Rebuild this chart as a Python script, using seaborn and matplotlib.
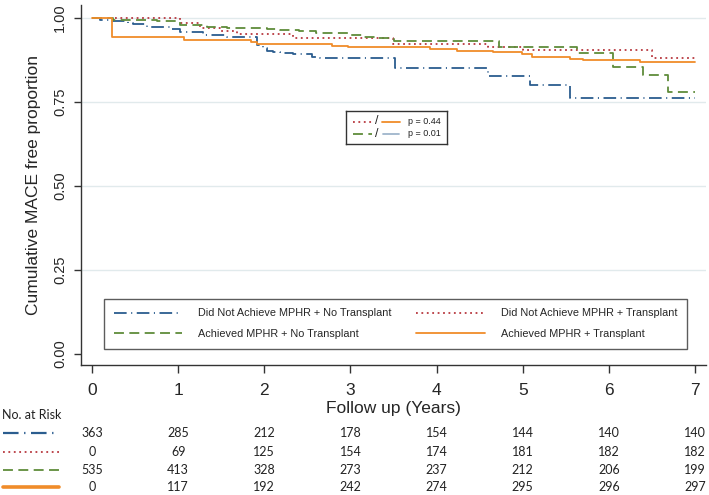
import matplotlib
matplotlib.use("Agg")
import matplotlib.pyplot as plt
import matplotlib.transforms as mtransforms
from matplotlib.lines import Line2D
import seaborn as sns
import pandas as pd

# ---------------- data ----------------
groups = ["Did Not Achieve MPHR + No Transplant",
          "Did Not Achieve MPHR + Transplant",
          "Achieved MPHR + No Transplant",
          "Achieved MPHR + Transplant"]

t_nomphr_notx = [0.0, 0.09, 0.23, 0.42, 0.48, 0.64, 0.91, 1.02, 1.10, 1.29, 1.57, 1.92, 1.99,
                 2.03, 2.10, 2.18, 2.33, 2.55, 2.65, 3.52, 4.60, 5.08, 5.55, 7.0]
s_nomphr_notx = [1.0, 0.995, 0.99, 0.986, 0.982, 0.974, 0.967, 0.959, 0.957, 0.948, 0.943, 0.920, 0.910,
                 0.902, 0.899, 0.897, 0.892, 0.885, 0.880, 0.850, 0.828, 0.801, 0.762, 0.762]

t_nomphr_tx = [0.27, 1.02, 1.25, 1.49, 1.68, 2.33, 3.49, 4.60, 5.00, 6.50, 7.0]
s_nomphr_tx = [1.0, 0.985, 0.970, 0.961, 0.951, 0.940, 0.923, 0.913, 0.905, 0.880, 0.880]

t_mphr_notx = [0.0, 0.24, 0.75, 1.02, 1.34, 1.57, 2.03, 2.18, 2.40, 2.60, 3.00, 3.14, 3.32, 3.51,
               4.72, 5.63, 6.05, 6.40, 6.69, 7.0]
s_mphr_notx = [1.0, 0.995, 0.990, 0.980, 0.974, 0.969, 0.967, 0.964, 0.960, 0.954, 0.949, 0.943, 0.940, 0.932,
               0.915, 0.896, 0.855, 0.830, 0.779, 0.779]

t_mphr_tx = [0.0, 0.23, 1.07, 1.85, 1.92, 2.79, 2.97, 3.92, 4.24, 4.65, 4.99, 5.11, 5.55, 5.70, 6.36, 7.0]
s_mphr_tx = [1.0, 0.943, 0.936, 0.929, 0.924, 0.918, 0.913, 0.909, 0.903, 0.899, 0.892, 0.885, 0.877,
             0.875, 0.868, 0.868]

risk_times = [0, 1, 2, 3, 4, 5, 6, 7]
risk_nomphr_notx = [363, 285, 212, 178, 154, 144, 140, 140]
risk_nomphr_tx = [0, 69, 125, 154, 174, 181, 182, 182]
risk_mphr_notx = [535, 413, 328, 273, 237, 212, 206, 199]
risk_mphr_tx = [0, 117, 192, 242, 274, 295, 296, 297]

p_labels = ["p = 0.44", "p = 0.01"]
y_ticks = [0.0, 0.25, 0.50, 0.75, 1.00]
x_ticks = [0, 1, 2, 3, 4, 5, 6, 7]

# ---------------- style ----------------
sns.set_theme(style="white")
plt.rcParams["font.family"] = ["Liberation Sans", "DejaVu Sans"]

c_blue = "#2b5d8f"
c_red = "#b8383f"
c_green = "#5f8c3a"
c_orange = "#f08c2a"
lw = 1.3

W, H = 709, 495
fig = plt.figure(figsize=(W / 100, H / 100), dpi=100)
ax = fig.add_axes([81 / W, 130 / H, 625 / W, 360 / H])

series = [
    (t_nomphr_notx, s_nomphr_notx, c_blue, (0, (7, 2.5, 0.6, 2.5))),
    (t_nomphr_tx, s_nomphr_tx, c_red, (0, (1.0, 2.0))),
    (t_mphr_notx, s_mphr_notx, c_green, (0, (5.5, 3.0))),
    (t_mphr_tx, s_mphr_tx, c_orange, "solid"),
]
handles = []
for (t, s, col, ls), name in zip(series, groups):
    df = pd.DataFrame({"t": t, "s": s})
    sns.lineplot(data=df, x="t", y="s", ax=ax, color=col, lw=lw,
                 drawstyle="steps-post", estimator=None, sort=False, zorder=3)
    ln = ax.lines[-1]
    ln.set_linestyle(ls)
    handles.append(Line2D([], [], color=col, lw=lw, linestyle=ls, label=name))

for yv in y_ticks[1:]:
    ax.axhline(yv, color="#e1eaec", lw=1.0, zorder=0)

ax.set_xlim(-0.128, 7.128)
ax.set_ylim((354 - 365) / 336, (354 - 5) / 336)
ax.set_xticks(x_ticks)
ax.set_xticklabels([str(v) for v in x_ticks], fontsize=12.5)
ax.set_yticks(y_ticks)
ax.set_yticklabels([f"{v:.2f}" for v in y_ticks], fontsize=10.5, rotation=90, va="center")
ax.tick_params(axis="x", length=6, width=1, color="#333333", pad=7, direction="out", bottom=True)
ax.tick_params(axis="y", length=5, width=1, color="#333333", pad=5, direction="out", left=True)
ax.set_xlabel("Follow up (Years)", fontsize=12.5, labelpad=2)
ax.set_ylabel("Cumulative MACE free proportion", fontsize=12.5, labelpad=9)
for sp in ["top", "right"]:
    ax.spines[sp].set_visible(False)
for sp in ["left", "bottom"]:
    ax.spines[sp].set_color("#333333")
    ax.spines[sp].set_linewidth(1.0)

order = [handles[0], handles[2], handles[1], handles[3]]
leg = ax.legend(handles=order, loc="lower left",
                bbox_to_anchor=(23 / 625, 16 / 360, 583 / 625, 61 / 360),
                mode="expand", ncol=2, fontsize=7.8, handlelength=6.3,
                handletextpad=1.5, borderaxespad=0, borderpad=0.9,
                labelspacing=1.0, fancybox=False, frameon=True)
leg.get_frame().set_edgecolor("#333333")
leg.get_frame().set_linewidth(1.0)

# p-value box
pax = fig.add_axes([346 / W, (H - 144) / H, 101 / W, 33 / H])
pax.set_xlim(0, 101)
pax.set_ylim(33, 0)
pax.set_xticks([])
pax.set_yticks([])
for sp in pax.spines.values():
    sp.set_color("#333333")
    sp.set_linewidth(1.0)
pax.set_facecolor("white")
rows_y = [10.5, 23]
pax.plot([7, 26], [rows_y[0]] * 2, color=c_red, lw=lw, linestyle=(0, (1.0, 2.0)))
pax.plot([36, 54], [rows_y[0]] * 2, color=c_orange, lw=lw)
pax.plot([7, 26], [rows_y[1]] * 2, color=c_green, lw=lw, linestyle=(0, (5.5, 3.0)))
pax.plot([37, 53], [rows_y[1]] * 2, color="#9fb5cc", lw=lw)
for ry, lab in zip(rows_y, p_labels):
    pax.text(31, ry, "/", fontsize=9, ha="center", va="center", color="#222222")
    pax.text(62, ry, lab, fontsize=6.5, ha="left", va="center", color="#222222")

# Number at risk table
trans = mtransforms.blended_transform_factory(ax.transData, fig.transFigure)
fig.text(2 / W, (H - 415) / H, "No. at Risk", fontsize=9, family="Lato",
         ha="left", va="center", color="#222222")
risk_rows = [risk_nomphr_notx, risk_nomphr_tx, risk_mphr_notx, risk_mphr_tx]
row_y = [433, 452, 470, 487]
sample_styles = [(c_blue, (0, (7, 2.5, 0.6, 2.5)), 1.6),
                 (c_red, (0, (1.0, 2.0)), 1.3),
                 (c_green, (0, (5.5, 3.0)), 1.3),
                 (c_orange, "solid", 2.6)]
for vals, yp, (col, ls, slw) in zip(risk_rows, row_y, sample_styles):
    yf = (H - yp) / H
    fig.add_artist(Line2D([3 / W, 59 / W], [yf, yf], color=col, lw=slw, linestyle=ls,
                          transform=fig.transFigure))
    for xv, v in zip(risk_times, vals):
        ax.text(xv, yf, str(v), transform=trans, fontsize=9, family="Lato",
                ha="center", va="center", color="#222222", clip_on=False)

fig.savefig("out.png", dpi=100, facecolor="white")
